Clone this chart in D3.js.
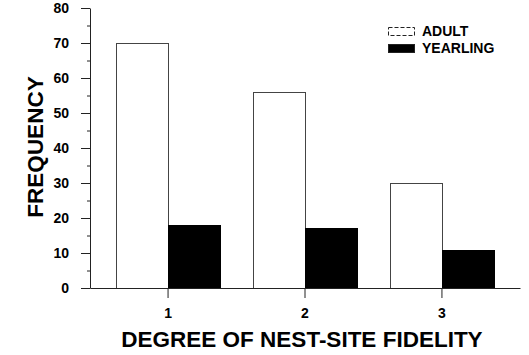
<!DOCTYPE html>
<html>
<head>
<meta charset="utf-8">
<script src="https://cdn.jsdelivr.net/npm/d3@7"></script>
<style>
  body { margin: 0; background: #fff; }
  svg { display: block; font-family: "Liberation Sans", Arial, sans-serif; font-weight: bold; }
</style>
</head>
<body>
<div id="chart"></div>
<script>

//******************************************************************************
//**  Data
//******************************************************************************
var categories = ["1", "2", "3"];
var seriesNames = ["ADULT", "YEARLING"];
var adult = [70, 56, 30];
var yearling = [18, 17, 11];
var yTicks = [0, 10, 20, 30, 40, 50, 60, 70, 80];
var yMinorTicks = [5, 15, 25, 35, 45, 55, 65, 75];


//******************************************************************************
//**  Chart
//******************************************************************************
var width = 529, height = 355;
var plotLeft = 90, plotRight = 520, plotTop = 8, plotBottom = 288;

var svg = d3.select("#chart").append("svg")
    .attr("width", width)
    .attr("height", height);

var y = d3.scaleLinear().domain([0, 80]).range([plotBottom, plotTop]);

var x = d3.scaleBand()
    .domain(categories)
    .range([plotLeft, plotRight])
    .paddingInner(0.24)
    .paddingOuter(0.19);

var xSub = d3.scaleBand()
    .domain(seriesNames)
    .range([0, x.bandwidth()]);

var fills = { "ADULT": "#fff", "YEARLING": "#000" };


//Bars
var rows = categories.map(function(c, i){
    return [
        { cat: c, key: "ADULT", value: adult[i] },
        { cat: c, key: "YEARLING", value: yearling[i] }
    ];
});

var g = svg.append("g");
g.selectAll("g.cat")
  .data(rows)
  .enter().append("g")
    .attr("transform", function(d){ return "translate(" + Math.round(x(d[0].cat)) + ",0)"; })
  .selectAll("rect")
  .data(function(d){ return d; })
  .enter().append("rect")
    .attr("x", function(d){ return Math.round(xSub(d.key)) + 0.5; })
    .attr("y", function(d){ return Math.round(y(d.value)) + 0.5; })
    .attr("width", Math.round(xSub.bandwidth()))
    .attr("height", function(d){ return plotBottom - Math.round(y(d.value)); })
    .attr("fill", function(d){ return fills[d.key]; })
    .attr("stroke", function(d){ return d.key === "ADULT" ? "#444" : "#000"; })
    .attr("stroke-width", 1);


//Y axis
var yAxis = svg.append("g")
    .attr("transform", "translate(" + plotLeft + ",0)")
    .call(d3.axisLeft(y).tickValues(yTicks).tickSize(9).tickPadding(12).tickSizeOuter(0));

svg.append("g")
    .attr("transform", "translate(" + plotLeft + ",0)")
    .call(d3.axisLeft(y).tickValues(yMinorTicks).tickSize(3).tickFormat("").tickSizeOuter(0))
    .select(".domain").remove();


//X axis
var xAxis = svg.append("g")
    .attr("transform", "translate(0," + plotBottom + ")")
    .call(d3.axisBottom(x).tickSize(10).tickPadding(10).tickSizeOuter(0));

svg.selectAll(".tick line, .domain").attr("stroke", "#222");
svg.selectAll(".tick text")
    .attr("font-size", 14)
    .attr("font-family", "Liberation Sans")
    .attr("font-weight", "bold")
    .attr("fill", "#000");


//Axis titles
svg.append("text")
    .attr("transform", "translate(43,147) rotate(-90)")
    .attr("text-anchor", "middle")
    .attr("font-size", 22.5)
    .text("FREQUENCY");

svg.append("text")
    .attr("x", 302)
    .attr("y", 347)
    .attr("text-anchor", "middle")
    .attr("font-size", 22.5)
    .text("DEGREE OF NEST-SITE FIDELITY");


//Legend
var legend = svg.append("g").attr("transform", "translate(388,27)");
legend.selectAll("g")
  .data(seriesNames)
  .enter().append("g")
    .attr("transform", function(d, i){ return "translate(0," + (i*17) + ")"; })
    .each(function(d){
        var item = d3.select(this);
        item.append("rect")
            .attr("x", 0.5).attr("y", 0.5)
            .attr("width", 26).attr("height", 8)
            .attr("fill", fills[d])
            .attr("stroke", "#222")
            .attr("stroke-dasharray", d === "ADULT" ? "4,2" : null);
        item.append("text")
            .attr("x", 34)
            .attr("y", 9)
            .attr("font-size", 14)
            .text(d);
    });

</script>
</body>
</html>
